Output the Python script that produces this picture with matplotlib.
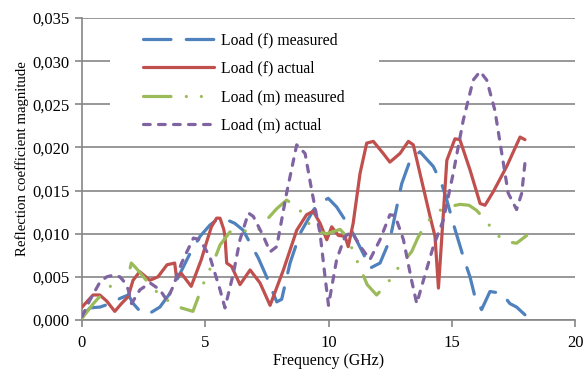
import numpy as np
import matplotlib
matplotlib.use("Agg")
import matplotlib.pyplot as plt
from matplotlib.patches import Rectangle
from matplotlib.ticker import FuncFormatter

plt.rcParams['font.family'] = ['Liberation Serif', 'DejaVu Serif']

# Load (f) measured
f_meas_x = [0, 0.32, 0.73, 1.14, 1.54, 1.88, 2.08, 2.42, 2.76, 3.16, 3.57, 3.98, 4.38, 4.79, 5.19,
            5.46, 5.73, 6.2, 6.54, 6.82, 7.15, 7.49, 7.9, 8.1, 8.44, 8.84, 9.38, 9.59, 9.99, 10.33,
            10.67, 11.0, 11.41, 11.68, 12.09, 12.49, 12.77, 12.97, 13.31, 13.71, 14.25, 14.59, 14.8,
            15.06, 15.47, 15.74, 15.94, 16.21, 16.55, 17.03, 17.36, 17.63, 17.97]
f_meas_y = [0.4, 1.4, 1.5, 1.9, 2.5, 2.9, 1.9, 0.8, 0.8, 1.5, 3.1, 5.4, 7.7, 9.7, 11.0,
            11.6, 11.8, 11.2, 10.4, 8.9, 7.2, 5.0, 2.1, 2.4, 6.6, 10.0, 12.7, 13.5, 14.1, 13.1,
            11.6, 10.0, 7.7, 6.0, 6.6, 9.3, 13.1, 15.8, 18.5, 19.5, 17.8, 15.8, 13.9,
            11.2, 7.3, 5.0, 2.7, 1.2, 3.3, 3.1, 1.9, 1.5, 0.6]

# Load (f) actual
f_act_x = [0, 0.45, 0.72, 1.0, 1.33, 1.6, 1.87, 2.07, 2.34, 2.55, 2.75, 3.08, 3.45, 3.76, 3.83,
           4.03, 4.43, 4.84, 5.04, 5.25, 5.46, 5.6, 5.75, 5.8, 5.87, 6.07, 6.41, 6.82, 7.22, 7.63,
           8.17, 8.71, 9.11, 9.38, 9.66, 9.93, 10.13, 10.4, 10.67, 10.8, 11.0, 11.28, 11.55, 11.82,
           12.22, 12.49, 12.9, 13.24, 13.44, 13.71, 14.12, 14.32, 14.46, 14.59, 14.8, 15.13, 15.33,
           15.74, 16.15, 16.35, 16.69, 17.23, 17.77, 17.97]
f_act_y = [1.5, 2.9, 2.9, 2.2, 1.0, 1.9, 2.7, 4.6, 5.6, 5.1, 4.6, 5.0, 6.4, 6.6, 5.0,
           5.4, 3.9, 7.0, 8.9, 10.8, 11.8, 11.8, 10.5, 9.7, 6.6, 6.2, 4.1, 5.8, 4.3, 1.7,
           5.8, 10.4, 12.2, 12.6, 11.2, 9.3, 10.8, 9.8, 9.7, 8.5, 11.2, 17.0, 20.5, 20.7,
           19.3, 18.3, 19.3, 20.7, 20.3, 17.0, 12.0, 9.7, 3.7, 9.3, 18.5, 21.0, 20.9,
           17.4, 13.5, 13.3, 14.9, 17.8, 21.2, 20.9]

# Load (m) measured
m_meas_x = [0, 0.46, 0.65, 1.03, 1.39, 1.87, 2.0, 2.2, 2.61, 3.02, 3.15, 3.6, 4.03, 4.5, 4.71,
            4.98, 5.4, 5.6, 6.0, 6.28, 6.7, 7.09, 7.49, 7.9, 8.3, 8.77, 9.11, 9.38, 9.93, 10.47,
            10.8, 11.0, 11.57, 11.95, 12.36, 12.7, 13.37, 13.62, 13.91, 14.32, 14.66, 15.0, 15.33,
            15.7, 16.01, 16.42, 16.75, 17.16, 17.63, 18.04]
m_meas_y = [0.2, 1.9, 2.5, 3.5, 4.7, 5.0, 6.6, 6.0, 4.6, 3.3, 2.7, 2.1, 1.4, 1.0, 2.6,
            4.6, 7.2, 8.7, 10.2, 10.4, 10.3, 10.2, 11.6, 12.9, 13.9, 13.0, 11.6, 10.4, 10.0, 10.5,
            9.5, 7.9, 4.1, 2.9, 4.1, 5.6, 7.9, 9.5, 11.0, 12.4, 12.9, 13.2, 13.4,
            13.3, 12.7, 11.4, 10.1, 9.1, 8.9, 9.8]

# Load (m) actual
m_act_x = [0, 0.32, 0.73, 1.0, 1.27, 1.54, 1.75, 1.88, 2.01, 2.35, 2.76, 3.16, 3.44, 3.7, 4.04,
           4.52, 4.79, 5.19, 5.6, 5.8, 6.14, 6.41, 6.75, 6.95, 7.36, 7.63, 7.9, 8.3, 8.71, 9.05,
           9.32, 9.66, 9.86, 10.0, 10.33, 10.67, 10.94, 11.35, 11.68, 12.09, 12.49, 12.7, 13.04,
           13.37, 13.58, 13.85, 14.25, 14.66, 15.06, 15.47, 15.87, 16.15, 16.42, 16.75, 17.03,
           17.29, 17.63, 17.84, 17.97]
m_act_y = [0.4, 2.3, 4.4, 5.0, 5.2, 5.0, 4.3, 3.5, 1.9, 3.5, 4.3, 3.5, 2.3, 3.9, 6.6,
           9.5, 9.3, 7.3, 3.5, 1.4, 5.4, 9.3, 12.4, 12.0, 9.7, 7.9, 8.5, 14.7, 20.3, 19.3,
           15.0, 10.0, 5.0, 1.7, 7.0, 9.7, 10.2, 8.3, 7.0, 9.3, 12.2, 12.1, 9.3,
           4.6, 1.9, 4.6, 8.5, 11.6, 17.0, 23.2, 27.8, 28.8, 27.8, 24.3, 19.3,
           14.7, 12.8, 14.7, 18.2]

grid_col = '#868686'

fig = plt.figure(figsize=(5.83, 3.71), dpi=100)
ax = fig.add_axes([82 / 583, 51 / 371, 493 / 583, 302 / 371])

lw = 2.3
ax.plot(f_meas_x, np.array(f_meas_y) / 1000, color='#4F81BD', lw=lw,
        dashes=(8.6, 4.8), dash_capstyle='round', label='Load (f) measured', zorder=3)
ax.plot(f_act_x, np.array(f_act_y) / 1000, color='#C0504D', lw=lw,
        solid_capstyle='round', solid_joinstyle='round', label='Load (f) actual', zorder=3)
ax.plot(m_meas_x, np.array(m_meas_y) / 1000, color='#9BBB59', lw=lw,
        dashes=(8.6, 4.8, 0.01, 4.7, 0.01, 4.8), dash_capstyle='round',
        label='Load (m) measured', zorder=3)
ax.plot(m_act_x, np.array(m_act_y) / 1000, color='#8064A2', lw=lw,
        dashes=(2.1, 2.6), dash_capstyle='round', label='Load (m) actual', zorder=3)

ax.set_xlim(0, 20)
ax.set_ylim(0, 0.035)
ax.set_xticks([0, 5, 10, 15, 20])
ax.set_yticks(np.arange(0, 0.0351, 0.005))
ax.yaxis.set_major_formatter(FuncFormatter(lambda v, p: f"{v:.3f}".replace('.', ',')))

ax.set_axisbelow(True)
ax.grid(axis='y', color=grid_col, lw=1.2)
for s in ['top', 'right']:
    ax.spines[s].set_visible(False)
for s in ['left', 'bottom']:
    ax.spines[s].set_color(grid_col)
    ax.spines[s].set_linewidth(1.2)
ax.tick_params(axis='both', direction='out', length=5, width=1.2, color=grid_col,
               labelsize=12, labelcolor='black')
ax.tick_params(axis='y', pad=4)
ax.tick_params(axis='x', pad=6)

ax.set_xlabel('Frequency (GHz)', fontsize=11.3, labelpad=1)
ax.set_ylabel('Reflection coefficient magnitude', fontsize=10.6)
ax.yaxis.set_label_coords(-0.108, 0.533)

# white box behind legend hides the upper gridlines
ax.add_patch(Rectangle((0.057, 0.60), 0.545, 0.375, transform=ax.transAxes,
                       facecolor='white', edgecolor='none', zorder=1.5))

ax.legend(loc='upper left', bbox_to_anchor=(143 / 583, 1 - 32 / 371),
          bbox_transform=fig.transFigure, frameon=False, fontsize=11.3,
          borderpad=0, borderaxespad=0, handlelength=4.5, handletextpad=0.45,
          labelspacing=0.8)

plt.savefig('out.png', dpi=100)
